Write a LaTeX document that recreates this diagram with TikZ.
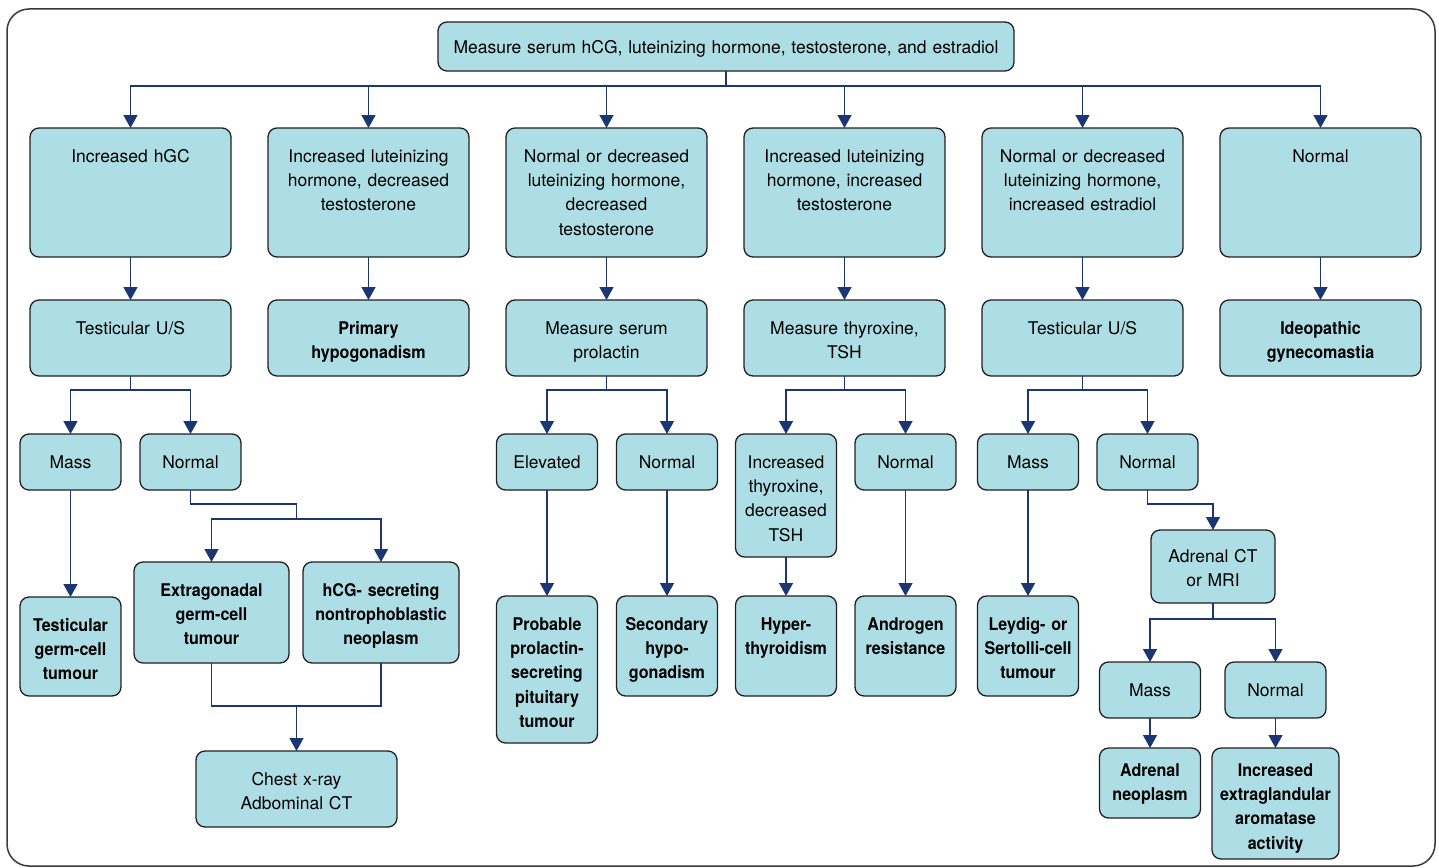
\documentclass[tikz,border=0pt]{standalone}
\usepackage{fontspec}
\setmainfont{TeX Gyre Heros}[BoldFeatures={FakeStretch=0.92}]
\usetikzlibrary{positioning, arrows.meta, calc}

\definecolor{boxfill}{HTML}{AEDEE5}
\definecolor{boxline}{HTML}{231F20}
\definecolor{linkblue}{HTML}{1B3773}
\definecolor{framegray}{HTML}{3A3A3A}

\begin{document}
\begin{tikzpicture}[
    x=1pt, y=-1pt,
    flowbox/.style={rectangle, draw=boxline, fill=boxfill, line width=1.3pt, rounded corners=9pt, align=center, anchor=north, inner xsep=0pt, inner ysep=0pt, outer sep=0pt, text height=34pt, font=\fontsize{17.5}{24.4}\selectfont},
    testbox/.style={flowbox},
    resultbox/.style={flowbox, font=\fontsize{17.5}{24.4}\selectfont\bfseries},
    widebox/.style={text width=201pt},
    narrowbox/.style={text width=101pt},
    conn/.style={draw=linkblue, line width=1.5pt},
    arrow/.style={conn, -{Triangle[width=14pt,length=13pt]}}
  ]
    \useasboundingbox (0,0) rectangle (1439,867);
    \draw[framegray, line width=1.5pt, rounded corners=22pt] (7,9) rectangle (1435,866);

    % Start
    \node[testbox, text width=576pt, text height=31pt, text depth=18pt] (measure) at (726,22) {Measure serum hCG, luteinizing hormone, testosterone, and estradiol};

    % Laboratory findings
    \node[testbox, widebox, text depth=95pt] (inchgc) at (130.5,128) {Increased hGC};
    \node[testbox, widebox, text depth=95pt, right=37pt of inchgc] (inclhdt) {Increased luteinizing\\hormone, decreased\\testosterone};
    \node[testbox, widebox, text depth=95pt, right=37pt of inclhdt] (normlhdt) {Normal or decreased\\luteinizing hormone,\\decreased\\testosterone};
    \node[testbox, widebox, text depth=95pt, right=37pt of normlhdt] (inclhit) {Increased luteinizing\\hormone, increased\\testosterone};
    \node[testbox, widebox, text depth=95pt, right=37pt of inclhit] (normlhie) {Normal or decreased\\luteinizing hormone,\\increased estradiol};
    \node[testbox, widebox, text depth=95pt, right=37pt of normlhie] (normalres) {Normal};

    % Next step
    \node[testbox, widebox, text depth=42pt, below=43pt of inchgc] (testus) {Testicular U/S};
    \node[resultbox, widebox, text depth=42pt, below=43pt of inclhdt] (primhypo) {Primary\\hypogonadism};
    \node[testbox, widebox, text depth=42pt, below=43pt of normlhdt] (prolactin) {Measure serum\\prolactin};
    \node[testbox, widebox, text depth=42pt, below=43pt of inclhit] (thyroxine) {Measure thyroxine,\\TSH};
    \node[testbox, widebox, text depth=42pt, below=43pt of normlhie] (testusb) {Testicular U/S};
    \node[resultbox, widebox, text depth=42pt, below=43pt of normalres] (ideo) {Ideopathic\\gynecomastia};

    % Results of the next step
    \node[testbox, narrowbox, text depth=22pt] (massa) at (70.5,434) {Mass};
    \node[testbox, narrowbox, text depth=22pt] (normala) at (190.5,434) {Normal};
    \node[testbox, narrowbox, text depth=22pt] (elevated) at (547,434) {Elevated};
    \node[testbox, narrowbox, text depth=22pt] (normalb) at (667,434) {Normal};
    \node[testbox, narrowbox, text depth=89pt] (incthyr) at (786,434) {Increased\\thyroxine,\\decreased\\TSH};
    \node[testbox, narrowbox, text depth=22pt] (normalc) at (905.5,434) {Normal};
    \node[testbox, narrowbox, text depth=22pt] (massb) at (1028,434) {Mass};
    \node[testbox, narrowbox, text depth=22pt] (normald) at (1147.5,434) {Normal};

    % Diagnoses
    \node[resultbox, narrowbox, text depth=65pt, below=107pt of massa] (tgct) {Testicular\\germ-cell\\tumour};
    \node[resultbox, text width=155pt, text depth=67pt] (extragon) at (211.5,562) {Extragonadal\\germ-cell\\tumour};
    \node[resultbox, text width=156pt, text depth=67pt] (hcgsec) at (381,562) {hCG- secreting\\nontrophoblastic\\neoplasm};
    \node[testbox, widebox, text depth=42pt] (chest) at (296.5,751) {Chest x-ray\\Adbominal CT};
    \node[resultbox, narrowbox, text depth=113pt, below=106pt of elevated] (probable) {Probable\\prolactin-\\secreting\\pituitary\\tumour};
    \node[resultbox, narrowbox, text depth=66pt, below=106pt of normalb] (secondary) {Secondary\\hypo-\\gonadism};
    \node[resultbox, narrowbox, text depth=66pt, below=39pt of incthyr] (hyperthy) {Hyper-\\thyroidism};
    \node[resultbox, narrowbox, text depth=66pt, below=106pt of normalc] (androgen) {Androgen\\resistance};
    \node[resultbox, narrowbox, text depth=66pt, below=106pt of massb] (leydig) {Leydig- or\\Sertolli-cell\\tumour};

    % Adrenal work-up
    \node[testbox, text width=124pt, text height=32pt, text depth=41pt] (adrct) at (1213,530) {Adrenal CT\\or MRI};
    \node[testbox, narrowbox, text depth=22pt] (massc) at (1150,662) {Mass};
    \node[testbox, narrowbox, text depth=22pt] (normale) at (1275.5,662) {Normal};
    \node[resultbox, narrowbox, text height=28pt, text depth=42pt, below=30pt of massc] (adrneo) {Adrenal\\neoplasm};
    \node[resultbox, text width=127pt, text height=28pt, text depth=83pt, below=30pt of normale] (extragl) {Increased\\extraglandular\\aromatase\\activity};

    % Arrows
    \foreach \n in {inchgc,inclhdt,normlhdt,inclhit,normlhie,normalres}
      \draw[arrow] (measure.south) -- ++(0,15) -| (\n.north);

    \draw[arrow] (inchgc) -- (testus);
    \draw[arrow] (inclhdt) -- (primhypo);
    \draw[arrow] (normlhdt) -- (prolactin);
    \draw[arrow] (inclhit) -- (thyroxine);
    \draw[arrow] (normlhie) -- (testusb);
    \draw[arrow] (normalres) -- (ideo);

    \draw[arrow] (testus.south) -- ++(0,14) -| (massa.north);
    \draw[arrow] (testus.south) -- ++(0,14) -| (normala.north);
    \draw[arrow] (prolactin.south) -- ++(0,14) -| (elevated.north);
    \draw[arrow] (prolactin.south) -- ++(0,14) -| (normalb.north);
    \draw[arrow] (thyroxine.south) -- ++(0,14) -| (incthyr.north);
    \draw[arrow] (thyroxine.south) -- ++(0,14) -| (normalc.north);
    \draw[arrow] (testusb.south) -- ++(0,14) -| (massb.north);
    \draw[arrow] (testusb.south) -- ++(0,14) -| (normald.north);

    \draw[arrow] (massa) -- (tgct);
    \coordinate (forka) at (296.5,519);
    \draw[arrow] (normala.south) -- ++(0,14) -| (forka) -| (extragon.north);
    \draw[arrow] (forka) -| (hcgsec.north);
    \coordinate (joina) at (296.5,706);
    \draw[conn] (extragon.south) |- (joina) -| (hcgsec.south);
    \draw[arrow] (joina) -- (chest.north);

    \draw[arrow] (elevated) -- (probable);
    \draw[arrow] (normalb) -- (secondary);
    \draw[arrow] (incthyr) -- (hyperthy);
    \draw[arrow] (normalc) -- (androgen);
    \draw[arrow] (massb) -- (leydig);

    \draw[arrow] (normald.south) -- ++(0,14) -| (adrct.north);
    \draw[arrow] (adrct.south) -- ++(0,16) -| (massc.north);
    \draw[arrow] (adrct.south) -- ++(0,16) -| (normale.north);
    \draw[arrow] (massc) -- (adrneo);
    \draw[arrow] (normale) -- (extragl);
  \end{tikzpicture}
\end{document}
